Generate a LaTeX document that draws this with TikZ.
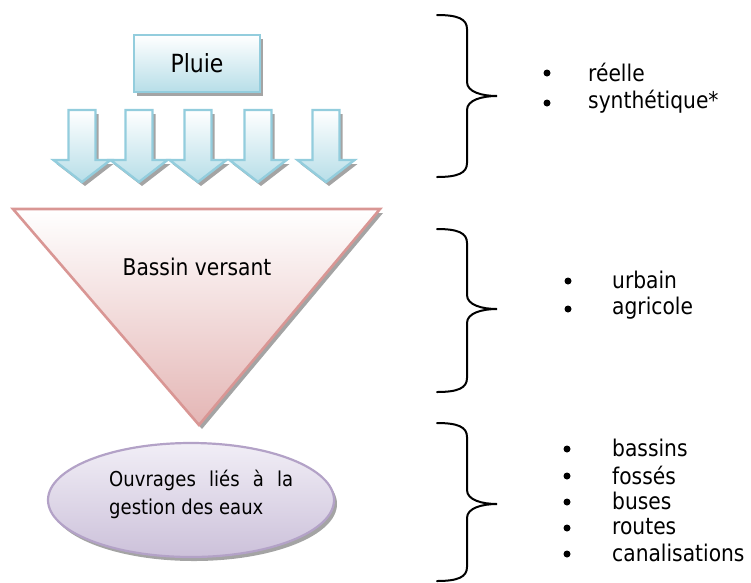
\documentclass[tikz,border=0pt]{standalone}
\usepackage{fontspec}
\setmainfont{DejaVu Sans}[FakeStretch=0.88]
\usetikzlibrary{shapes.geometric,shadows}
\definecolor{blueline}{HTML}{93CDDD}
\definecolor{bluefill}{HTML}{B7DEE8}
\definecolor{pinkline}{HTML}{D99694}
\definecolor{pinkfill}{HTML}{E4B6B5}
\definecolor{lavline}{HTML}{B3A2C7}
\definecolor{lavtop}{HTML}{F1EEF6}
\definecolor{lavfill}{HTML}{CCC1DA}
\definecolor{shadowgray}{HTML}{A4A4A4}
\begin{document}
\begin{tikzpicture}[x=1pt,y=-1pt,
  shd/.style={drop shadow={shadow xshift=3pt,shadow yshift=-4pt,fill=shadowgray,opacity=1}},
  bluebox/.style={draw=blueline,line width=2.6pt,top color=white,bottom color=bluefill,shd},
  pinkshape/.style={draw=pinkline,line width=2.6pt,top color=white,bottom color=pinkfill,line join=miter,shd},
  lavshape/.style={draw=lavline,line width=2.2pt,top color=lavtop,bottom color=lavfill,shd},
  lbl/.style={font=\fontsize{23}{27}\selectfont,inner sep=0pt},
  itm/.style={font=\fontsize{23}{27}\selectfont,inner sep=0pt,anchor=west},
  bul/.style={circle,fill=black,inner sep=0pt,minimum size=7pt},
  bracepath/.style={line width=2pt,black,line cap=round}
]
\useasboundingbox (0,0) rectangle (751,582);

% Pluie
\node[bluebox,minimum width=126,minimum height=57,inner sep=0pt] (pluie) at (197,63.5) {};
\node[font=\fontsize{25}{29}\selectfont,inner sep=0pt] (pluietxt) at (197,63) {Pluie};

% arrows
\foreach \c in {82,139,198,258,326}{
  \path[bluebox,line width=2.4pt] (\c-13.5,110) -- (\c+13.5,110) -- (\c+13.5,160) -- (\c+28.5,160) -- (\c,182) -- (\c-28.5,160) -- (\c-13.5,160) -- cycle;
}

% triangle
\path[pinkshape] (13,209) -- (380,209) -- (199,425) -- cycle;
\node[lbl] (bassin) at (197,267) {Bassin versant};

% ellipse
\node[ellipse,lavshape,minimum width=286,minimum height=114,inner sep=0pt] (ouvr) at (191,500) {};
\node[font=\fontsize{20.5}{28}\selectfont,inner sep=0pt,anchor=west,align=left] (ouvrtxt) at (109,494)
  {\makebox[184pt][s]{Ouvrages liés à la}\\gestion des eaux};

% braces
\draw[bracepath] (437,15) .. controls (458,15) and (467,19) .. (467,29) -- (467,82)
  .. controls (467,92) and (482,96) .. (497,96)
  .. controls (482,96) and (467,100) .. (467,110) -- (467,163)
  .. controls (467,173) and (458,177) .. (437,177);
\draw[bracepath] (437,229) .. controls (458,229) and (467,233) .. (467,243) -- (467,295)
  .. controls (467,305) and (482,309) .. (497,309)
  .. controls (482,309) and (467,313) .. (467,323) -- (467,378)
  .. controls (467,388) and (458,392) .. (437,392);
\draw[bracepath] (437,423) .. controls (458,423) and (467,427) .. (467,437) -- (467,490)
  .. controls (467,500) and (482,504) .. (497,504)
  .. controls (482,504) and (467,508) .. (467,518) -- (467,567)
  .. controls (467,577) and (458,581) .. (437,581);

% lists
\node[bul] (b1) at (547,73) {};
\node[bul] (b2) at (547,103) {};
\node[itm] (t1) at (588,72) {réelle};
\node[itm] (t2) at (588,102) {synthétique*};

\node[bul] (b3) at (568,281) {};
\node[bul] (b4) at (568,309) {};
\node[itm] (t3) at (612,280) {urbain};
\node[itm] (t4) at (612,308) {agricole};

\node[bul] (b5) at (567,449) {};
\node[bul] (b6) at (567,476) {};
\node[bul] (b7) at (567,502) {};
\node[bul] (b8) at (567,528) {};
\node[bul] (b9) at (567,554) {};
\node[itm] (t5) at (612,448) {bassins};
\node[itm] (t6) at (612,475) {fossés};
\node[itm] (t7) at (612,501) {buses};
\node[itm] (t8) at (612,527) {routes};
\node[itm] (t9) at (612,553) {canalisations};
\end{tikzpicture}
\end{document}
